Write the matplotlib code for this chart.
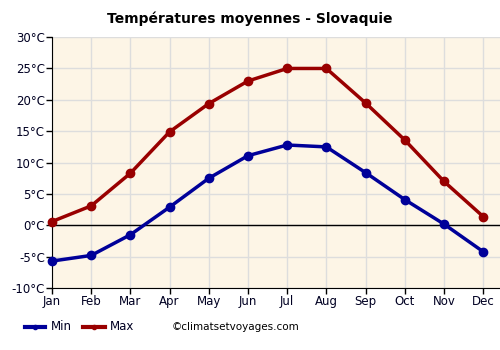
import matplotlib
matplotlib.use("Agg")
import matplotlib.pyplot as plt
from matplotlib.lines import Line2D

months = ["Jan", "Feb", "Mar", "Apr", "May", "Jun", "Jul", "Aug", "Sep", "Oct", "Nov", "Dec"]
tmin = [-5.7, -4.8, -1.5, 2.9, 7.5, 11.1, 12.8, 12.5, 8.4, 4.1, 0.2, -4.2]
tmax = [0.6, 3.1, 8.3, 14.9, 19.4, 23.0, 25.0, 25.0, 19.5, 13.6, 7.0, 1.4]
yticks = [-10, -5, 0, 5, 10, 15, 20, 25, 30]

fig = plt.figure(figsize=(5, 3.5), dpi=100)
ax = fig.add_axes([0.104, 0.177, 0.896, 0.717])
ax.set_facecolor("#fdf5e6")
x = list(range(len(months)))
ax.set_xlim(0, 11.43)
ax.set_ylim(-10, 30)
ax.set_xticks(x)
ax.set_xticklabels(months, fontsize=8.5, color="#000022")
ax.set_yticks(yticks)
ax.set_yticklabels([f"{v}°C" for v in yticks], fontsize=8.5, color="#000022")
ax.grid(True, color="#dddddd", linewidth=1)
ax.set_axisbelow(True)
for s in ["top", "right"]:
    ax.spines[s].set_visible(False)
ax.tick_params(length=4, width=1, pad=1)
ax.axhline(0, color="black", linewidth=1, zorder=2)

ax.plot(x, tmin, color="#000099", linewidth=2.5, marker="o", markersize=6, zorder=3, clip_on=False)
ax.plot(x, tmax, color="#990000", linewidth=2.5, marker="o", markersize=6, zorder=3, clip_on=False)

fig.text(0.5, 0.945, "Températures moyennes - Slovaquie", ha="center", va="center",
         fontsize=10, fontweight="bold")

# legend
fig.add_artist(Line2D([0.05, 0.07, 0.09], [0.066, 0.066, 0.066], color="#000099", linewidth=3,
                      marker="o", markersize=3, markevery=[1], transform=fig.transFigure))
fig.text(0.102, 0.066, "Min", fontsize=8.5, va="center", color="#000022")
fig.add_artist(Line2D([0.166, 0.188, 0.21], [0.066, 0.066, 0.066], color="#990000", linewidth=3,
                      marker="o", markersize=3, markevery=[1], transform=fig.transFigure))
fig.text(0.22, 0.066, "Max", fontsize=8.5, va="center", color="#000022")
fig.text(0.344, 0.066, "©climatsetvoyages.com", fontsize=7.5, va="center", color="#000000")

fig.savefig("out.png", dpi=100)
